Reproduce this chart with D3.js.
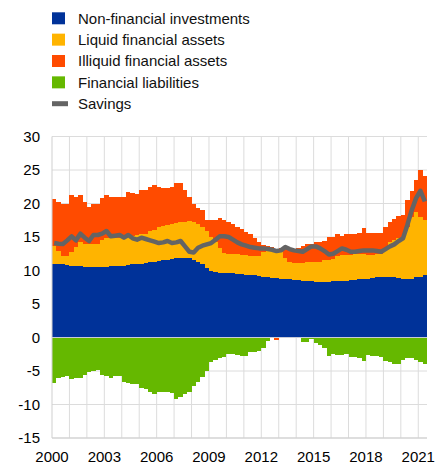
<!DOCTYPE html>
<html>
<head>
<meta charset="utf-8">
<script src="https://cdn.jsdelivr.net/npm/d3@7"></script>
<style>
  body { margin: 0; background: #fff; }
  text { font-family: "Liberation Sans", Arial, sans-serif; }
</style>
</head>
<body>
<svg id="chart" width="436" height="463"></svg>
<script>
// quarterly data, 2000Q1 .. 2021Q2
const startYear = 2000;
const nQuarters = 86;

const nonFin = [11.0, 11.0, 10.9, 10.8, 10.7, 10.6, 10.6, 10.5, 10.5, 10.5, 10.5, 10.5, 10.5, 10.6, 10.6, 10.7,
  10.7, 10.8, 10.9, 10.9, 11.0, 11.1, 11.2, 11.3, 11.4, 11.5, 11.6, 11.7, 11.8, 11.9, 11.9, 11.8,
  11.6, 11.3, 10.9, 10.4, 10.0, 9.8, 9.7, 9.6, 9.6, 9.6, 9.5, 9.5, 9.4, 9.4, 9.3, 9.2,
  9.1, 9.0, 8.9, 8.9, 8.8, 8.8, 8.7, 8.6, 8.6, 8.5, 8.4, 8.4, 8.3, 8.3, 8.3, 8.3,
  8.4, 8.4, 8.5, 8.5, 8.6, 8.6, 8.7, 8.7, 8.8, 8.9, 9.0, 9.1, 9.1, 9.1, 9.0, 8.9,
  8.8, 8.8, 8.8, 9.0, 9.0, 9.4];

const liquid = [2.6, 1.9, 1.3, 1.4, 2.1, 2.9, 3.7, 3.5, 3.4, 3.4, 3.5, 4.0, 4.3, 4.3, 4.3, 4.2,
  4.3, 4.2, 4.3, 4.4, 4.4, 4.4, 4.7, 4.8, 5.1, 5.2, 5.2, 5.3, 5.3, 5.3, 5.4, 5.6,
  5.7, 5.7, 5.6, 5.5, 5.0, 4.4, 3.6, 3.0, 2.8, 2.8, 2.9, 2.8, 2.9, 2.8, 2.9, 3.0,
  3.7, 4.0, 4.0, 4.0, 4.0, 3.0, 2.6, 2.5, 2.5, 2.6, 2.8, 2.8, 2.9, 3.0, 3.2, 3.3,
  3.3, 3.8, 3.8, 3.8, 3.7, 3.8, 3.7, 3.7, 3.5, 3.4, 3.4, 3.4, 4.2, 5.2, 5.5, 5.9,
  6.2, 7.7, 9.2, 9.8, 9.0, 8.2];

const illiquid = [7.0, 7.3, 7.8, 7.8, 8.4, 7.4, 6.9, 6.2, 5.6, 6.1, 6.0, 6.3, 6.5, 6.0, 6.0, 6.0,
  6.0, 6.7, 6.3, 6.1, 6.6, 6.5, 6.6, 6.7, 5.9, 5.6, 5.5, 5.4, 5.9, 5.8, 4.7, 3.6,
  2.7, 2.3, 2.5, 1.7, 2.5, 3.3, 4.6, 5.0, 4.9, 4.5, 4.1, 3.9, 3.4, 3.2, 2.7, 2.1,
  1.0, 0.6, 0.3, -0.3, 0.5, 1.5, 2.0, 2.1, 2.3, 2.5, 2.7, 2.8, 3.1, 3.0, 2.9, 3.35,
  3.25, 3.3, 2.9, 3.2, 3.2, 3.1, 3.2, 3.9, 3.3, 3.3, 3.2, 3.1, 3.2, 3.0, 3.2, 3.4,
  3.3, 4.0, 3.9, 4.7, 7.0, 6.5];

const liabilities = [-6.8, -6.1, -5.9, -5.7, -6.2, -6.0, -6.0, -5.6, -5.2, -5.0, -4.9, -5.6, -5.7, -6.0, -5.7, -5.8,
  -6.7, -6.8, -6.9, -6.9, -7.5, -7.7, -8.1, -8.5, -8.2, -8.2, -8.2, -8.35, -9.2, -8.85, -8.5, -8.2,
  -7.3, -6.6, -5.9, -5.0, -3.6, -3.35, -3.1, -2.85, -2.5, -2.5, -2.6, -2.8, -2.8, -2.2, -2.2, -2.0,
  -1.5, -0.5, 0.3, 0, 0, 0, 0, 0, 0, -0.6, -0.6, -0.2, -0.8, -1.1, -1.6, -2.7,
  -2.4, -2.6, -2.6, -2.5, -2.9, -2.9, -3.0, -3.5, -2.6, -2.7, -2.8, -2.9, -3.5, -3.6, -4.0, -4.0,
  -3.4, -3.1, -3.1, -3.3, -3.6, -4.0];

const savings = [14.1, 14.0, 13.95, 14.5, 15.1, 14.5, 15.5, 14.9, 14.4, 15.3, 15.3, 15.5, 15.9, 15.1, 15.2, 15.3,
  14.9, 15.3, 14.8, 14.6, 14.9, 14.7, 14.5, 14.3, 14.1, 14.2, 14.4, 14.1, 14.2, 14.4, 13.6, 12.8,
  12.7, 13.4, 13.7, 13.9, 14.1, 14.6, 15.1, 15.1, 15.0, 14.6, 14.2, 13.9, 13.7, 13.5, 13.4, 13.3,
  13.3, 13.2, 13.1, 12.9, 13.0, 13.5, 13.2, 13.0, 12.9, 12.8, 13.2, 13.6, 13.6, 13.3, 12.9, 12.4,
  12.5, 12.9, 13.3, 13.1, 12.8, 12.8, 12.9, 13.0, 13.0, 13.0, 12.9, 12.8, 13.2, 13.6, 13.9, 14.4,
  14.8, 16.8, 19.0, 20.8, 21.9, 20.3];

const xTickYears = [2000, 2003, 2006, 2009, 2012, 2015, 2018, 2021];
const yTicks = [-15, -10, -5, 0, 5, 10, 15, 20, 25, 30];

const legendItems = [
  { label: "Non-financial investments", key: "nonFin", type: "box" },
  { label: "Liquid financial assets", key: "liquid", type: "box" },
  { label: "Illiquid financial assets", key: "illiquid", type: "box" },
  { label: "Financial liabilities", key: "liabilities", type: "box" },
  { label: "Savings", key: "savings", type: "line" }
];

const colors = {
  nonFin: "#003299",
  liquid: "#FFB400",
  illiquid: "#FF4B00",
  liabilities: "#65B800",
  savings: "#646464"
};

const svg = d3.select("#chart");

const x = d3.scaleLinear()
  .domain([startYear, startYear + nQuarters / 4])
  .range([52, 427]);

const y = d3.scaleLinear()
  .domain([-15, 30])
  .range([438, 136.5]);

const data = d3.range(nQuarters).map(i => ({
  t: startYear + i / 4,
  nonFin: nonFin[i],
  liquid: liquid[i],
  illiquid: illiquid[i],
  liabilities: liabilities[i],
  savings: savings[i]
}));

// gridlines
const grid = svg.append("g");
grid.selectAll("line.h")
  .data(yTicks)
  .enter().append("line")
  .attr("x1", x.range()[0]).attr("x2", x.range()[1])
  .attr("y1", d => y(d)).attr("y2", d => y(d))
  .attr("stroke", "#dcdcdc").attr("stroke-width", 1);

grid.selectAll("line.v")
  .data(d3.range(2001, 2022))
  .enter().append("line")
  .attr("x1", d => x(d)).attr("x2", d => x(d))
  .attr("y1", y(30)).attr("y2", y(-15))
  .attr("stroke", "#dcdcdc").attr("stroke-width", 1);

// stacked bars: positive parts stack up in key order, negative parts stack down
const stack = d3.stack()
  .keys(["nonFin", "liquid", "liabilities", "illiquid"])
  .offset(d3.stackOffsetDiverging);

const series = stack(data);

// snap bar edges to whole pixels so neighbouring bars touch without seams
const x0 = d => Math.round(x(d.data.t));
const x1 = d => Math.round(x(d.data.t + 0.25));

svg.append("g")
  .attr("shape-rendering", "crispEdges")
  .selectAll("g")
  .data(series)
  .enter().append("g")
  .attr("fill", d => colors[d.key])
  .selectAll("rect")
  .data(d => d)
  .enter().append("rect")
  .attr("x", x0)
  .attr("width", d => x1(d) - x0(d))
  .attr("y", d => y(Math.max(d[0], d[1])))
  .attr("height", d => Math.abs(y(d[0]) - y(d[1])));

// zero line
svg.append("line")
  .attr("x1", x.range()[0]).attr("x2", x.range()[1])
  .attr("y1", y(0)).attr("y2", y(0))
  .attr("stroke", "#c8cbd8").attr("stroke-width", 1);

// savings line
const line = d3.line()
  .x(d => x(d.t + 0.125))
  .y(d => y(d.savings));

svg.append("path")
  .datum(data)
  .attr("fill", "none")
  .attr("stroke", colors.savings)
  .attr("stroke-width", 4.5)
  .attr("stroke-linejoin", "round")
  .attr("d", line);

// axes lines
svg.append("line")
  .attr("x1", x.range()[0]).attr("x2", x.range()[0])
  .attr("y1", y(30)).attr("y2", y(-15))
  .attr("stroke", "#cfcfcf");
svg.append("line")
  .attr("x1", x.range()[0]).attr("x2", x.range()[1])
  .attr("y1", y(-15)).attr("y2", y(-15))
  .attr("stroke", "#cfcfcf");

// tick labels
svg.append("g")
  .selectAll("text")
  .data(yTicks)
  .enter().append("text")
  .attr("x", 40)
  .attr("y", d => y(d))
  .attr("dy", "0.35em")
  .attr("text-anchor", "end")
  .style("font-size", "15px")
  .attr("fill", "#000")
  .text(d => d);

svg.append("g")
  .selectAll("text")
  .data(xTickYears)
  .enter().append("text")
  .attr("x", d => x(d))
  .attr("y", 461.5)
  .attr("text-anchor", "middle")
  .style("font-size", "15px")
  .attr("fill", "#000")
  .text(d => d);

// legend
const legend = svg.append("g");
const rowY = i => 18.3 + i * 21.35;

legend.selectAll("rect")
  .data(legendItems.filter(d => d.type === "box"))
  .enter().append("rect")
  .attr("x", 52)
  .attr("y", (d, i) => rowY(i) - 6)
  .attr("width", 13)
  .attr("height", 12)
  .attr("fill", d => colors[d.key]);

legend.selectAll("line")
  .data(legendItems.filter(d => d.type === "line"))
  .enter().append("line")
  .attr("x1", 52).attr("x2", 68)
  .attr("y1", rowY(4)).attr("y2", rowY(4))
  .attr("stroke", colors.savings)
  .attr("stroke-width", 5);

legend.selectAll("text")
  .data(legendItems)
  .enter().append("text")
  .attr("x", 78)
  .attr("y", (d, i) => rowY(i))
  .attr("dy", "0.35em")
  .style("font-size", "15px")
  .attr("fill", "#111")
  .text(d => d.label);
</script>
</body>
</html>
